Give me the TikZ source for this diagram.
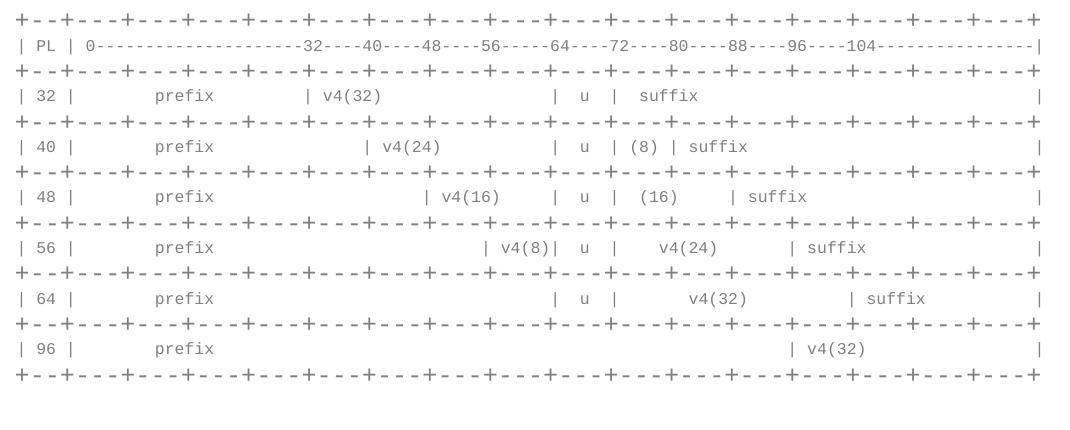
\documentclass[tikz,border=0pt]{standalone}
\usepackage{fontspec}
\setmonofont{Liberation Mono}

\definecolor{asciigray}{HTML}{808080}
\newcommand\rowfont{\ttfamily\fontsize{16.47}{16.47}\selectfont}
\newcommand\plusfont{\ttfamily\fontsize{25.17}{25.17}\selectfont}
\newcommand\sk[1]{\hspace*{#1\fontcharwd\font`x}}

\begin{document}
\begin{tikzpicture}[x=1pt, y=-1pt,
    textrow/.style={font=\rowfont, text=asciigray, inner sep=0pt, anchor=base west},
    plusrow/.style={textrow, font=\plusfont}]
    \useasboundingbox (0,0) rectangle (1070,429);

    % separator lines
    \foreach \i in {0,...,7}
        \node[plusrow] (sep\i) at (14.45, {28.8+50.6*\i}) {+--+---+---+---+---+---+---+---+---+---+---+---+---+---+---+---+---+};

    \node[textrow] (pl)   at (16.36, 51.0)  {| PL | 0---------------------32----40----48----56-----64----72----80----88----96----104----------------|};
    \node[textrow] (pl32) at (16.36, 101.6) {| 32 |\sk{8}prefix\sk{9}| v4(32)\sk{17}|\sk{2}u\sk{2}|\sk{2}suffix\sk{34}|};
    \node[textrow] (pl40) at (16.36, 152.2) {| 40 |\sk{8}prefix\sk{15}| v4(24)\sk{11}|\sk{2}u\sk{2}| (8) | suffix\sk{29}|};
    \node[textrow] (pl48) at (16.36, 202.8) {| 48 |\sk{8}prefix\sk{21}| v4(16)\sk{5}|\sk{2}u\sk{2}|\sk{2}(16)\sk{5}| suffix\sk{23}|};
    \node[textrow] (pl56) at (16.36, 253.4) {| 56 |\sk{8}prefix\sk{27}| v4(8)|\sk{2}u\sk{2}|\sk{4}v4(24)\sk{7}| suffix\sk{17}|};
    \node[textrow] (pl64) at (16.36, 304.0) {| 64 |\sk{8}prefix\sk{34}|\sk{2}u\sk{2}|\sk{7}v4(32)\sk{10}| suffix\sk{11}|};
    \node[textrow] (pl96) at (16.36, 354.6) {| 96 |\sk{8}prefix\sk{58}| v4(32)\sk{17}|};
\end{tikzpicture}
\end{document}
